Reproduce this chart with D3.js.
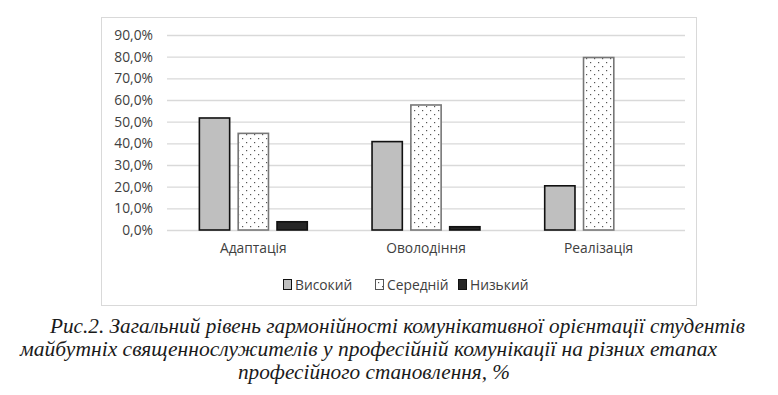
<!DOCTYPE html>
<html><head><meta charset="utf-8">
<script src="https://cdn.jsdelivr.net/npm/d3@7"></script>
<style>body{margin:0;background:#fff;} svg{display:block;}</style>
</head><body>
<svg id="c" width="778" height="395"></svg>
<script>
const categories = ["Адаптація", "Оволодіння", "Реалізація"];
const seriesNames = ["Високий", "Середній", "Низький"];
const high = [51.7, 40.8, 20.4];
const medium = [44.6, 57.7, 79.6];
const low = [3.8, 1.5, 0];
const yTicks = [0, 10, 20, 30, 40, 50, 60, 70, 80, 90];
const captionLines = [
  "Рис.2. Загальний рівень гармонійності комунікативної орієнтації студентів",
  "майбутніх священнослужителів у професійній комунікації на різних етапах",
  "професійного становлення, %"
];

const series = [high, medium, low];
const svg = d3.select("#c");
const defs = svg.append("defs");
const pat = defs.append("pattern").attr("id","dots").attr("patternUnits","userSpaceOnUse")
  .attr("width",8).attr("height",8);
pat.append("rect").attr("width",8).attr("height",8).attr("fill","#fff");
pat.append("rect").attr("x",2).attr("y",2).attr("width",1.2).attr("height",1.2).attr("fill","#555");
pat.append("rect").attr("x",6).attr("y",6).attr("width",1.2).attr("height",1.2).attr("fill","#555");

// chart border
svg.append("rect").attr("x",101.5).attr("y",17.5).attr("width",595).attr("height",288)
  .attr("fill","#fff").attr("stroke","#d9d9d9").attr("stroke-width",1);

const x0 = d3.scaleBand().domain(categories).range([167, 685]).paddingInner(0.375).paddingOuter(0.1875);
const x1 = d3.scaleBand().domain(seriesNames).range([0, x0.bandwidth()]).paddingInner(0.22);
const y = d3.scaleLinear().domain([0, 90]).range([230, 35]);

const fills = ["#bfbfbf", "url(#dots)", "#262626"];
const strokes = ["#111", "#777", "#111"];

// gridlines
svg.append("g").selectAll("line").data(yTicks).join("line")
  .attr("x1",167).attr("x2",685).attr("y1",d=>y(d)+0.5).attr("y2",d=>y(d)+0.5)
  .attr("stroke","#d9d9d9").attr("stroke-width",1.3);

const fontFam = "Open Sans, sans-serif";
// y axis labels
const yAxis = d3.axisLeft(y).tickValues(yTicks).tickSize(0).tickPadding(0)
  .tickFormat(d => d3.format(".1f")(d).replace(".", ",") + "%");
const ya = svg.append("g").attr("transform","translate(153,0)").call(yAxis);
ya.select(".domain").remove();
ya.selectAll("text").attr("font-family",fontFam).attr("font-size",13.8).attr("fill","#404040");

// bars
categories.forEach((c, ci) => {
  series.forEach((s, si) => {
    const v = s[ci];
    if (v <= 0) return;
    svg.append("rect")
      .attr("x", x0(c) + x1(seriesNames[si]))
      .attr("y", y(v))
      .attr("width", x1.bandwidth())
      .attr("height", y(0) - y(v))
      .attr("fill", fills[si]).attr("stroke", strokes[si]).attr("stroke-width", 1.6);
  });
});

// x axis labels
const xAxis = d3.axisBottom(x0).tickSize(0).tickPadding(0);
const xa = svg.append("g").attr("transform","translate(0,243)").call(xAxis);
xa.select(".domain").remove();
xa.selectAll("text").attr("font-family",fontFam).attr("font-size",13.8).attr("fill","#404040");

// legend
const legX = [283, 375, 458];
const lg = svg.append("g");
seriesNames.forEach((n, i) => {
  lg.append("rect").attr("x", legX[i] + 0.5).attr("y", 279.5).attr("width", 8).attr("height", 10)
    .attr("fill", fills[i]).attr("stroke", i===1 ? "#555" : "#111").attr("stroke-width", 1);
  lg.append("text").attr("x", legX[i] + 12).attr("y", 290).text(n)
    .attr("font-family",fontFam).attr("font-size",13.8).attr("fill","#404040");
});

// caption
const capX = [50, 20, 238];
const capW = [695, 697, 272];
const capY = [333, 356, 379];
captionLines.forEach((t, i) => {
  svg.append("text").attr("x", capX[i]).attr("y", capY[i]).text(t)
    .attr("font-family","Liberation Serif, serif").attr("font-style","italic").attr("font-size",20)
    .attr("fill","#1a1a1a").attr("textLength", capW[i]).attr("lengthAdjust","spacingAndGlyphs");
});
</script>
</body></html>
